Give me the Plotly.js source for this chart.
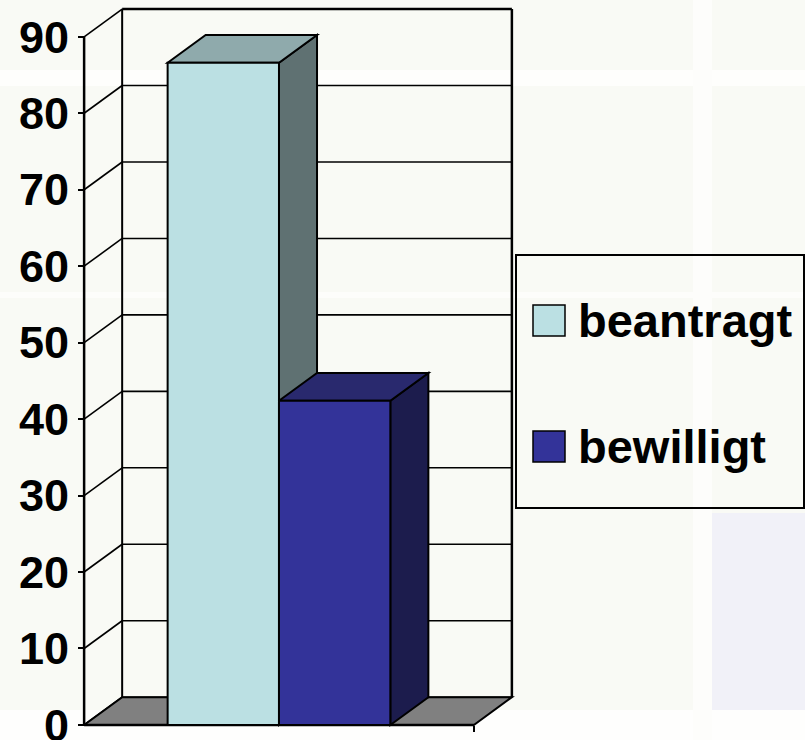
<!DOCTYPE html>
<html><head><meta charset="utf-8">
<script src="https://cdn.plot.ly/plotly-3.0.1.min.js"></script>
<style>html,body{margin:0;padding:0;background:#F9FAF5;}#chart{width:805px;height:740px;}</style>
</head><body><div id="chart"></div>
<script>
// ---- data ----
const categories = [0];
const seriesNames = ['beantragt', 'bewilligt'];
const beantragt = [86.6];
const bewilligt = [42.4];
const yTickVals = [0, 10, 20, 30, 40, 50, 60, 70, 80, 90];
const yTickText = ['0', '10', '20', '30', '40', '50', '60', '70', '80', '90'];

// ---- styles ----
const frontColors = ['#BBE0E3', '#333399'];
const topColors = ['#8FAAAC', '#29296E'];
const sideColors = ['#5F7172', '#1C1C4D'];
const FONT = 'Liberation Sans, Arial, sans-serif';

const series = [beantragt, bewilligt];
const Y_MAX = 90;
const DX = 0.0976, DY = 3.63;      // 3-D depth in axis units
const GAP = 1.5;                    // gap width 150 %
const BW = 1 / (seriesNames.length + GAP);

const W = 805, H = 740;
const M = {l: 81, r: 290, t: 6, b: 12};
const pw = W - M.l - M.r, ph = H - M.t - M.b;
const xr = [-0.508, 0.5 + DX + 0.008];
const yr = [-0.4, Y_MAX + DY + 0.4];
const px = v => (v - M.l) / pw;
const py = v => (H - M.b - v) / ph;

const shapes = [];
// slide background panels
function bgRect(x0, y0, x1, y1, color) {
  shapes.push({type: 'rect', xref: 'paper', yref: 'paper', layer: 'below',
    x0: px(x0), x1: px(x1), y0: py(y0), y1: py(y1), fillcolor: color, line: {width: 0}});
}
bgRect(0, 70, 805, 86, '#FEFEFC');
bgRect(0, 292, 805, 298, '#FDFDFB');
bgRect(0, 710, 805, 740, '#FEFEFD');
bgRect(693, 0, 712, 740, '#FDFDFB');
bgRect(712, 513, 805, 710, '#F1F1F8');

function seg(x0, y0, x1, y1, w) {
  shapes.push({type: 'line', xref: 'x', yref: 'y', layer: 'below',
    x0: x0, y0: y0, x1: x1, y1: y1, line: {color: '#000', width: w}});
}
function poly(pts, fill, w) {
  const d = pts.map((p, i) => (i ? 'L' : 'M') + p[0] + ',' + p[1]).join(' ') + ' Z';
  shapes.push({type: 'path', xref: 'x', yref: 'y', layer: 'below', path: d,
    fillcolor: fill, line: {color: '#000', width: w}});
}
const xL = -0.5, xR = 0.5;
// back wall grid + left wall grid
yTickVals.forEach(v => {
  seg(xL + DX, v + DY, xR + DX, v + DY, v === Y_MAX ? 2.5 : 1.6);
  seg(xL, v, xL + DX, v + DY, 1.6);
});
seg(xL + DX, DY, xL + DX, Y_MAX + DY, 2);
seg(xR + DX, DY, xR + DX, Y_MAX + DY, 2.5);
// floor
poly([[xL, 0], [xR, 0], [xR + DX, DY], [xL + DX, DY]], '#808080', 2);
// front axis lines
seg(xL, 0, xL, Y_MAX, 2.5);
seg(xL, 0, xR, 0, 2.5);

// 3-D side and top faces of the bars
const offsets = series.map((s, i) => -BW * series.length / 2 + i * BW);
series.forEach((s, i) => {
  const v = s[0];
  const x0 = categories[0] + offsets[i], x1 = x0 + BW;
  poly([[x1, 0], [x1 + DX, DY], [x1 + DX, v + DY], [x1, v]], sideColors[i], 2);
  poly([[x0, v], [x0 + DX, v + DY], [x1 + DX, v + DY], [x1, v]], topColors[i], 2);
});

// legend (drawn manually for large swatches)
shapes.push({type: 'rect', xref: 'paper', yref: 'paper', x0: px(516), x1: px(804), y0: py(255), y1: py(508),
  line: {color: '#000', width: 2}, fillcolor: 'rgba(0,0,0,0)'});
const annotations = [];
const legendRows = [320.5, 446.5];
seriesNames.forEach((n, i) => {
  const cy = legendRows[i];
  shapes.push({type: 'rect', xref: 'paper', yref: 'paper', x0: px(533), x1: px(565),
    y0: py(cy - 15.5), y1: py(cy + 15.5), line: {color: '#000', width: 1.5}, fillcolor: frontColors[i]});
  annotations.push({xref: 'paper', yref: 'paper', x: px(576), y: py(cy), xanchor: 'left', yanchor: 'middle',
    text: n, showarrow: false, font: {family: FONT, size: 47, color: '#000', weight: 'bold'}});
});

const traces = series.map((s, i) => ({
  type: 'bar', name: seriesNames[i], x: categories, y: s,
  width: [BW], offset: [offsets[i]],
  marker: {color: frontColors[i], line: {color: '#000', width: 2}},
  showlegend: false, hoverinfo: 'skip'
}));

const layout = {
  width: W, height: H, margin: M,
  paper_bgcolor: '#F9FAF5', plot_bgcolor: 'rgba(0,0,0,0)',
  barmode: 'overlay', showlegend: false,
  xaxis: {range: xr, showgrid: false, zeroline: false, showline: false, showticklabels: false,
    tickvals: [xR], ticks: 'outside', ticklen: 6, tickwidth: 2, tickcolor: '#000',
    anchor: 'free', position: py(725), fixedrange: true},
  yaxis: {range: yr, showgrid: false, zeroline: false, showline: false,
    tickvals: yTickVals, ticktext: yTickText, ticks: 'outside', ticklen: 6, tickwidth: 2, tickcolor: '#000',
    tickfont: {family: FONT, size: 45, color: '#000', weight: 'bold'}, ticklabeloverflow: 'allow',
    anchor: 'free', position: px(84), fixedrange: true},
  shapes: shapes, annotations: annotations
};
Plotly.newPlot('chart', traces, layout, {staticPlot: true, displayModeBar: false});
</script></body></html>
